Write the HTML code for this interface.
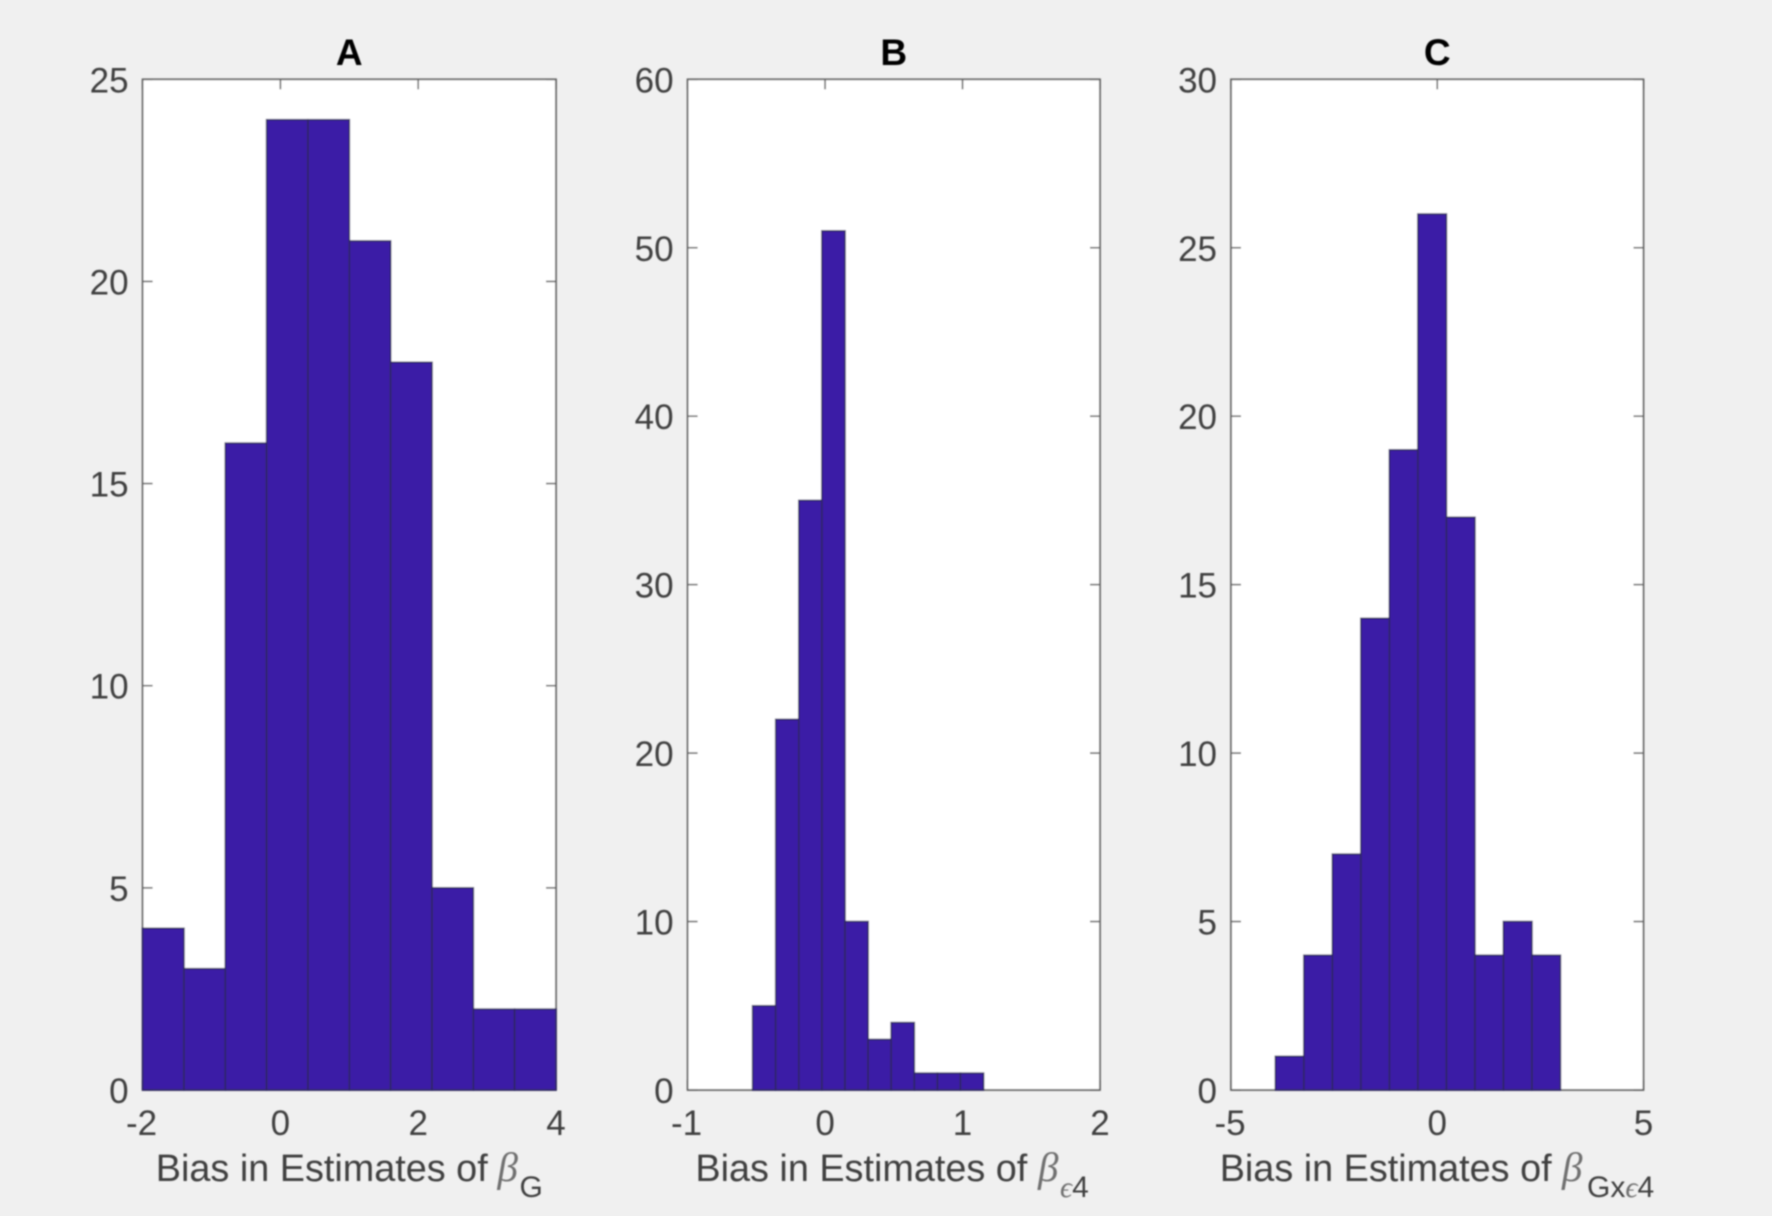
<!DOCTYPE html>
<html lang="en">
<head>
<meta charset="utf-8">
<title>Bias histograms</title>
<style>
html,body{margin:0;padding:0;background:#f0f0f0;width:1772px;height:1216px;overflow:hidden}
svg{display:block;font-family:"Liberation Sans",sans-serif}
</style>
</head>
<body>
<svg id="figure" width="1772" height="1216" viewBox="0 0 1772 1216" xmlns="http://www.w3.org/2000/svg">
<defs>
<filter id="soft" x="-2%" y="-2%" width="104%" height="104%"><feGaussianBlur stdDeviation="0.8"/></filter>
</defs>
<rect width="1772" height="1216" fill="#f0f0f0"/>
<g id="root" filter="url(#soft)"></g>
</svg>
<script>
const titles = ['A', 'B', 'C'];
const countsA = [4, 3, 16, 24, 24, 21, 18, 5, 2, 2];
const countsB = [5, 22, 35, 51, 10, 3, 4, 1, 1, 1];
const countsC = [1, 4, 7, 14, 19, 26, 17, 4, 5, 4];
const binStarts = [-2, -0.527, -3.924];
const binWidths = [0.6, 0.168, 0.691];
const xTicksA = [-2, 0, 2, 4];
const xTicksB = [-1, 0, 1, 2];
const xTicksC = [-5, 0, 5];
const yTicksA = [0, 5, 10, 15, 20, 25];
const yTicksB = [0, 10, 20, 30, 40, 50, 60];
const yTicksC = [0, 5, 10, 15, 20, 25, 30];
const subscripts = ['G', '\u03F54', 'Gx\u03F54'];

const panelLeft = [142.6, 687.6, 1231];
const panelRight = [556, 1100, 1643.5];
const panelTop = 79.3;
const panelBottom = 1090;
const labelX = [155.8, 695.4, 1219.7];
const betaX = [497.5, 1038, 1562];
const subGap = [22, 22, 25];
const allCounts = [countsA, countsB, countsC];
const allXTicks = [xTicksA, xTicksB, xTicksC];
const allYTicks = [yTicksA, yTicksB, yTicksC];
const NS = 'http://www.w3.org/2000/svg';
const root = document.getElementById('root');

function make(tag, attrs, parent) {
  const node = document.createElementNS(NS, tag);
  for (const k in attrs) node.setAttribute(k, attrs[k]);
  parent.appendChild(node);
  return node;
}

titles.forEach(function (title, p) {
  const counts = allCounts[p];
  const xt = allXTicks[p];
  const yt = allYTicks[p];
  const xMin = xt[0], xMax = xt[xt.length - 1];
  const yMin = yt[0], yMax = yt[yt.length - 1];
  const L = panelLeft[p], R = panelRight[p];
  const sx = function (v) { return L + (v - xMin) / (xMax - xMin) * (R - L); };
  const sy = function (v) { return panelBottom - (v - yMin) / (yMax - yMin) * (panelBottom - panelTop); };

  const g = make('g', {}, root);
  
  

  const plot = make('rect', { x: L, y: panelTop, width: R - L, height: panelBottom - panelTop, fill: '#ffffff' }, g);
  
  

  xt.forEach(function (v) {
    const x = sx(v);
    const top = make('line', { x1: x, x2: x, y1: panelTop, y2: panelTop + 10, stroke: '#666', 'stroke-width': 1.6 }, g);
    
    
    const bottom = make('line', { x1: x, x2: x, y1: panelBottom, y2: panelBottom - 10, stroke: '#666', 'stroke-width': 1.6 }, g);
    
    
    const lab = make('text', { x: x - (v < 0 ? 1 : 0), y: 1135, 'text-anchor': 'middle', 'font-size': 35, fill: '#404040' }, g);
    
    
    lab.textContent = String(v);
  });

  yt.forEach(function (v) {
    const y = sy(v);
    const left = make('line', { x1: L, x2: L + 10, y1: y, y2: y, stroke: '#666', 'stroke-width': 1.6 }, g);
    
    
    const right = make('line', { x1: R, x2: R - 10, y1: y, y2: y, stroke: '#666', 'stroke-width': 1.6 }, g);
    
    
    const lab = make('text', { x: L - 14, y: y + 13, 'text-anchor': 'end', 'font-size': 35, fill: '#404040' }, g);
    
    
    lab.textContent = String(v);
  });

  const frame = make('rect', { x: L, y: panelTop, width: R - L, height: panelBottom - panelTop, fill: 'none', stroke: '#666', 'stroke-width': 1.8 }, g);
  
  

  counts.forEach(function (c, i) {
    const a = binStarts[p] + i * binWidths[p];
    const b = a + binWidths[p];
    const bar = make('rect', { x: sx(a), y: sy(c), width: sx(b) - sx(a), height: sy(0) - sy(c), fill: '#3b1ba6', stroke: '#2e2763', 'stroke-width': 1.6 }, g);
    
    
  });

  const ttl = make('text', { x: (L + R) / 2, y: 65, 'text-anchor': 'middle', 'font-size': 37, 'font-weight': 700, fill: '#000' }, g);
  
  
  ttl.textContent = title;

  const xl = make('text', { x: labelX[p], y: 1181, 'font-size': 37.8, fill: '#404040' }, g);
  
  
  xl.textContent = 'Bias in Estimates of ';
  const beta = make('tspan', { x: betaX[p], 'font-family': '"Liberation Serif","DejaVu Serif",serif', 'font-style': 'italic', fill: '#707070', 'font-size': 41 }, xl);
  beta.textContent = '\u03B2';
  Array.from(subscripts[p]).forEach(function (ch, i) {
    const attrs = { y: 1197, 'font-size': 30 };
    if (i === 0) attrs.x = betaX[p] + subGap[p];
    if (ch === '\u03F5') {
      attrs['font-family'] = '"Liberation Serif","DejaVu Serif",serif';
      attrs['font-style'] = 'italic';
      attrs.fill = '#707070';
    }
    const sub = make('tspan', attrs, xl);
    sub.textContent = ch;
  });
});
</script>
</body>
</html>
